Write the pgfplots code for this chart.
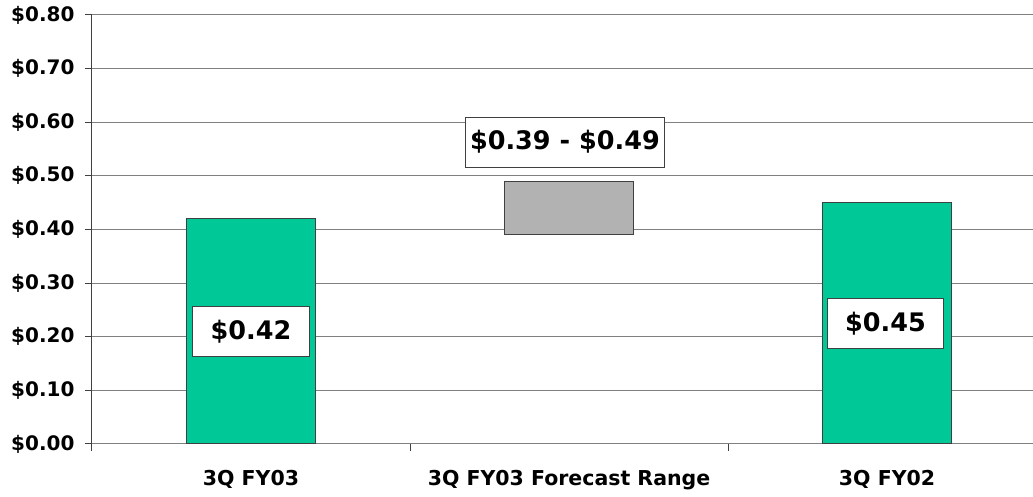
\documentclass[border=0pt]{standalone}
\usepackage{fontspec}
\setmainfont{DejaVu Sans}
\usepackage{pgfplots}
\pgfplotsset{compat=1.18}
\usetikzlibrary{calc}

\definecolor{barGreen}{RGB}{0,201,151}
\definecolor{rangeGray}{RGB}{178,178,178}
\definecolor{gridGray}{RGB}{128,128,128}
\definecolor{edgeGray}{RGB}{64,64,64}

\tikzset{valuebox/.style={fill=white, draw=edgeGray, line width=1bp,
  font=\bfseries\fontsize{25.5bp}{28bp}\selectfont,
  minimum height=50bp}}

\begin{document}
\begin{tikzpicture}
\begin{axis}[
  name=ax,
  at={(0,0)}, anchor=south west,
  scale only axis,
  width=941bp, height=429bp,
  xmin=-0.5, xmax=2.459,
  ymin=0, ymax=0.8,
  axis lines*=left,
  x axis line style={gridGray, line width=1bp},
  y axis line style={edgeGray, line width=1bp},
  tick align=outside,
  major tick length=7bp,
  tick style={edgeGray, line width=1bp},
  ytick={0,0.1,0.2,0.3,0.4,0.5,0.6,0.7,0.8},
  yticklabels={\$0.00,\$0.10,\$0.20,\$0.30,\$0.40,\$0.50,\$0.60,\$0.70,\$0.80},
  yticklabel style={font=\bfseries\fontsize{20bp}{22bp}\selectfont, xshift=-7bp},
  ymajorgrids,
  major grid style={gridGray, line width=1bp},
  xtick={-0.5,0.5,1.5},
  xticklabels={},
  extra x ticks={0,1,2},
  extra x tick labels={3Q FY03,3Q FY03 Forecast Range,3Q FY02},
  extra x tick style={grid=none, major tick length=0pt,
    xticklabel style={font=\bfseries\fontsize{20.5bp}{22bp}\selectfont, yshift=-23bp}},
]
% actual results
\addplot[ybar, bar width=129bp, fill=barGreen, draw=edgeGray, line width=1bp]
  coordinates {(0,0.42) (2,0.45)};
% forecast range, floating from 0.39 to 0.49
\addplot[fill=rangeGray, draw=edgeGray, line width=1bp]
  coordinates {(0.7972,0.39) (1.2028,0.39) (1.2028,0.49) (0.7972,0.49)} -- cycle;

\node[valuebox, inner xsep=18bp] at (axis cs:0,0.21) {\$0.42};
\node[valuebox, inner xsep=18bp] at (axis cs:1.995,0.225) {\$0.45};
\node[valuebox, inner xsep=5bp] at (axis cs:0.987,0.563) {\$0.39 - \$0.49};
\end{axis}
\pgfresetboundingbox
\path ($(ax.south west)+(-92bp,-53bp)$) rectangle ($(ax.north east)+(0,15bp)$);
\end{tikzpicture}
\end{document}
